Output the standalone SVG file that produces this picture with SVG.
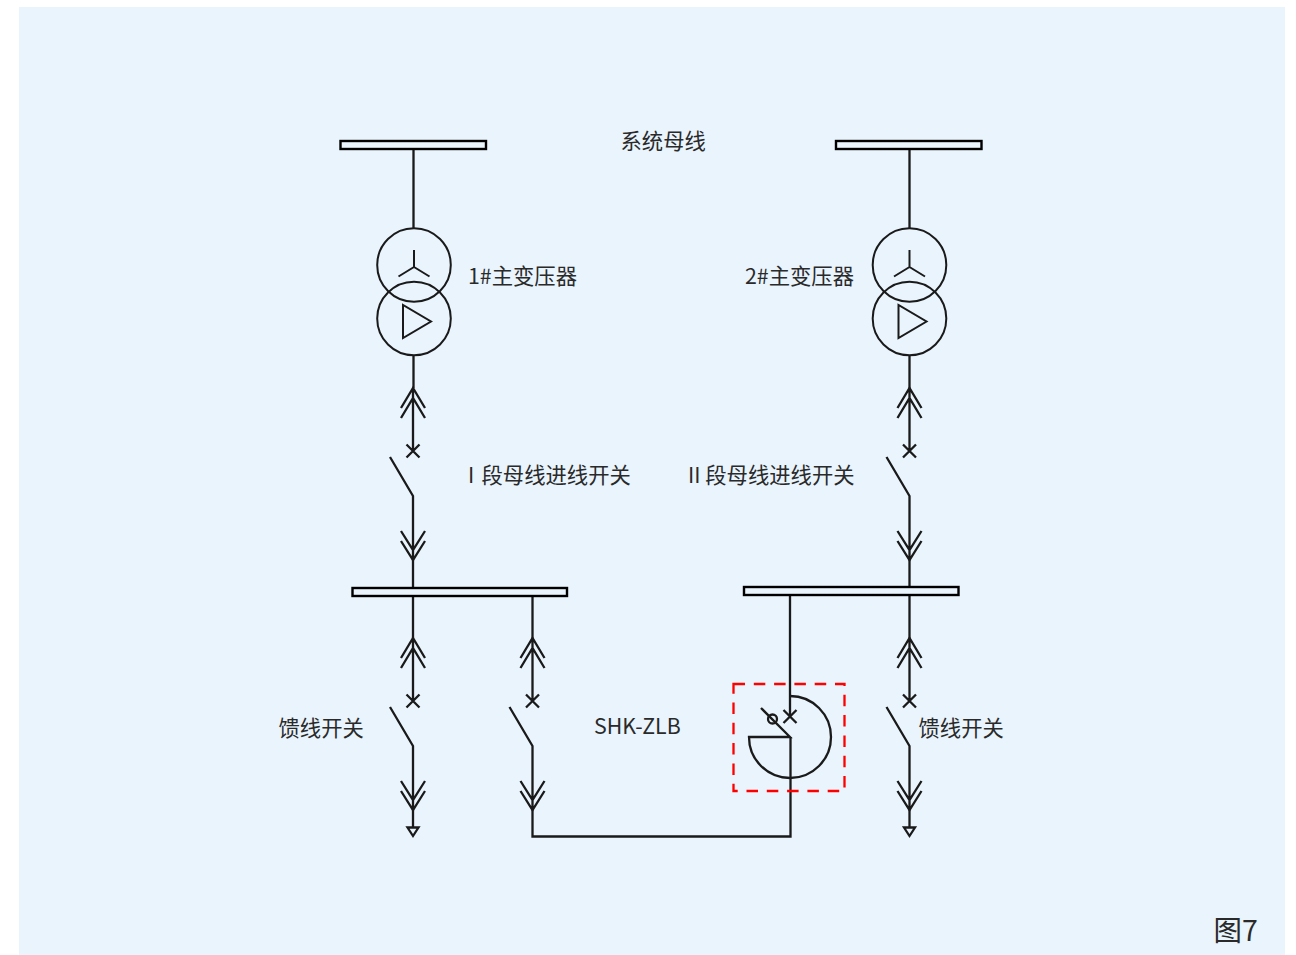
<svg xmlns="http://www.w3.org/2000/svg" width="1296" height="955" viewBox="0 0 1296 955">
<style>
.l{fill:none;stroke:#1a1a1a;stroke-width:2.300}
.c{fill:none;stroke:#1a1a1a;stroke-width:2}
.b{fill:#e9f4fd;stroke:#000;stroke-width:2.400}
.t{font-family:"Noto Sans CJK SC","Noto Sans",sans-serif;font-size:21.330px;fill:#2a2a2a}
</style>
<defs>
<g id="bay" class="l">
<path d="M0 0V63M-12 20L0 0L12 20M-12 30L0 10L12 30M-6.500 56.500L6.500 69.500M6.500 56.500L-6.500 69.500"/>
<path d="M-23 69L0 108V171M-12 143L0 162L12 143M-12 153L0 172L12 153"/>
</g>
<g id="tx" class="c">
<circle cx="0" cy="0" r="36.800"/>
<circle cx="0" cy="53.500" r="36.800"/>
<path d="M0 -15V2M0 2L-15.500 11.500M0 2L15.500 11.500"/>
<path d="M-11 40V73L17 56.500Z"/>
</g>
</defs>
<rect x="19" y="7" width="1266" height="948" fill="#e9f4fd"/>
<g id="connectors" class="l">
<path d="M413.500 149V228M413.500 355V388"/>
<path d="M909.500 149V228M909.500 355V388"/>
<use href="#bay" x="413" y="388"/>
<use href="#bay" x="909.500" y="388"/>
<use href="#bay" x="413" y="638"/>
<use href="#bay" x="532.500" y="638"/>
<use href="#bay" x="909.500" y="638"/>
<path d="M413 559V589M909.500 559V588"/>
<path d="M413 596V638M532.500 596V638M909.500 595V638"/>
<path d="M413 809V827M909.500 809V827"/>
<path d="M532.500 809V836.500H790.500V737M790 595V717"/>
</g>
<g id="bus-sys-1"><rect class="b" x="340.500" y="141" width="145.500" height="8"/></g>
<g id="bus-sys-2"><rect class="b" x="836" y="141" width="145.500" height="8"/></g>
<g id="bus-1"><rect class="b" x="352.500" y="588" width="214.500" height="8"/></g>
<g id="bus-2"><rect class="b" x="744" y="587" width="214.500" height="8"/></g>
<g id="transformer-1"><use href="#tx" x="414" y="265"/></g>
<g id="transformer-2"><use href="#tx" x="909.500" y="265"/></g>
<g id="load-1"><path class="l" d="M407.500 827.500H418.500L413 836Z"/></g>
<g id="load-2"><path class="l" d="M904 827.500H915L909.500 836Z"/></g>
<g id="shk-zlb">
<rect x="733.500" y="684" width="111" height="107" fill="none" stroke="#f00" stroke-width="2.300" stroke-dasharray="11.500 8.800"/>
<path class="l" d="M790 696A41 41 0 1 1 749 737H790L761 708"/>
<circle class="l" cx="772.500" cy="719" r="4.500"/>
<path class="l" d="M783.500 710L796.500 723M796.500 710L783.500 723"/>
</g>
<g id="labels">
<text class="t" x="620.500" y="149">系统母线</text>
<text class="t" x="468" y="283.500">1#主变压器</text>
<text class="t" x="745" y="283.500">2#主变压器</text>
<text class="t" x="468" y="482.500">I <tspan x="481.500">段母线进线开关</tspan></text>
<text class="t" x="688" y="482.500">II 段母线进线开关</text>
<text class="t" x="278.500" y="736">馈线开关</text>
<text class="t" x="918.500" y="736">馈线开关</text>
<text class="t" x="594" y="734">SHK-ZLB</text>
<text class="t" x="1213.500" y="941" style="font-size:28.500px">图7</text>
</g>
</svg>
